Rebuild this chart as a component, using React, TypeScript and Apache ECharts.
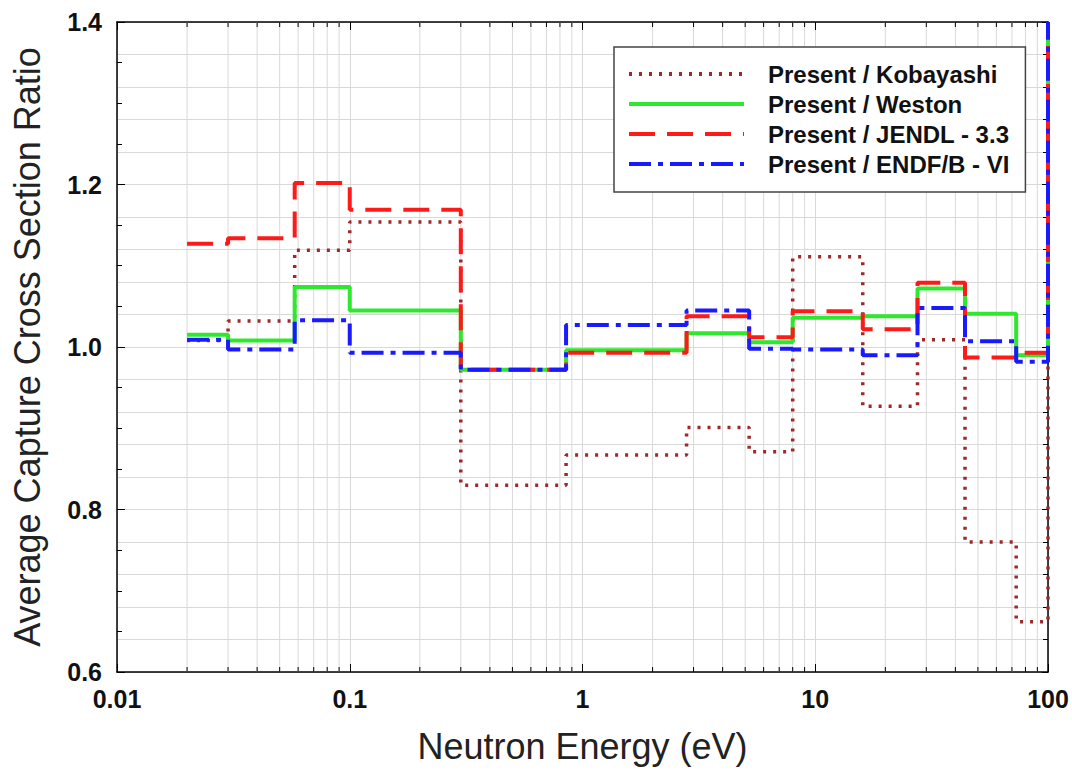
import React, { useEffect, useRef } from "react";
import * as echarts from "echarts";

// Bin lower edges (eV); the last entry is the upper edge of the final bin
const binEdges = [0.02, 0.03, 0.058, 0.1, 0.3, 0.85, 2.8, 5.2, 8, 16, 27.5, 44, 73, 100];
// Ratio in each bin (13 bins)
const kobayashi = [1.008, 1.032, 1.119, 1.154, 0.83, 0.867, 0.901, 0.871, 1.111, 0.927, 1.009, 0.76, 0.662];
const weston = [1.015, 1.008, 1.074, 1.045, 0.972, 0.996, 1.017, 1.006, 1.036, 1.038, 1.072, 1.041, 0.99];
const jendl = [1.127, 1.134, 1.202, 1.169, 0.972, 0.993, 1.038, 1.012, 1.044, 1.022, 1.079, 0.987, 0.993];
const endf = [1.009, 0.997, 1.033, 0.993, 0.972, 1.027, 1.045, 0.998, 0.997, 0.99, 1.048, 1.007, 0.982];
// value each curve jumps to at the 100 eV edge
const endValue = 1.4;

const seriesNames = [
  "Present / Kobayashi",
  "Present / Weston",
  "Present / JENDL - 3.3",
  "Present / ENDF/B - VI",
];

const xTickLabels = ["0.01", "0.1", "1", "10", "100"];
const yTickLabels = ["0.6", "0.8", "1.0", "1.2", "1.4"];
const minorXTicks = [
  0.02, 0.03, 0.04, 0.05, 0.06, 0.07, 0.08, 0.09,
  0.2, 0.3, 0.4, 0.5, 0.6, 0.7, 0.8, 0.9,
  2, 3, 4, 5, 6, 7, 8, 9,
  20, 30, 40, 50, 60, 70, 80, 90,
];

const X_MIN = 0.01;
const X_MAX = 100;
const Y_MIN = 0.6;
const Y_MAX = 1.4;

function stepData(values: number[]) {
  const pts: number[][] = values.map((v, i) => [binEdges[i], v]);
  pts.push([binEdges[binEdges.length - 1], endValue]);
  return pts;
}

export default function App() {
  const ref = useRef<HTMLDivElement>(null);

  useEffect(() => {
    if (!ref.current) return;
    const chart = echarts.init(ref.current, null, { renderer: "svg" });

    const lineBase = {
      type: "line",
      step: "end",
      showSymbol: false,
      symbol: "none",
      z: 3,
      xAxisIndex: 0,
      yAxisIndex: 0,
    };

    const option: any = {
      animation: false,
      backgroundColor: "#ffffff",
      grid: { left: 117, right: 24, top: 22, bottom: 104, containLabel: false },
      legend: {
        data: seriesNames,
        orient: "vertical",
        left: 614,
        top: 47,
        backgroundColor: "#ffffff",
        borderColor: "#444444",
        borderWidth: 1.5,
        padding: [15, 16, 16, 13],
        itemWidth: 115,
        itemHeight: 14,
        itemGap: 6,
        itemStyle: { opacity: 0 },
        lineStyle: { width: 4 },
        textStyle: {
          fontFamily: "Liberation Sans, Arial, sans-serif",
          fontWeight: "bold",
          fontSize: 24,
          color: "#111111",
          padding: [0, 0, 0, 19],
        },
      },
      xAxis: [
        {
          type: "log",
          logBase: 10,
          min: X_MIN,
          max: X_MAX,
          position: "bottom",
          name: "Neutron Energy (eV)",
          nameLocation: "middle",
          nameGap: 56,
          nameTextStyle: {
            fontFamily: "Liberation Sans, Arial, sans-serif",
            fontSize: 36,
            color: "#222222",
          },
          axisLine: { show: true, lineStyle: { color: "#000000", width: 1.5 } },
          axisTick: { show: true, inside: true, length: 8, lineStyle: { color: "#000000" } },
          axisLabel: {
            margin: 14,
            fontFamily: "Liberation Sans, Arial, sans-serif",
            fontWeight: "bold",
            fontSize: 25,
            color: "#111111",
            formatter: (v: number) => {
              const idx = Math.round(Math.log10(v)) + 2;
              return xTickLabels[idx] ?? String(v);
            },
          },
          splitLine: { show: true, lineStyle: { color: "#d9d9d9", width: 1 } },
          minorTick: { show: false },
        },
        {
          type: "log",
          logBase: 10,
          min: X_MIN,
          max: X_MAX,
          position: "top",
          axisLine: { show: true, lineStyle: { color: "#000000", width: 1.5 } },
          axisTick: { show: true, inside: true, length: 8, lineStyle: { color: "#000000" } },
          axisLabel: { show: false },
          splitLine: { show: false },
        },
      ],
      yAxis: [
        {
          type: "value",
          min: Y_MIN,
          max: Y_MAX,
          interval: 0.2,
          position: "left",
          name: "Average Capture Cross Section Ratio",
          nameLocation: "middle",
          nameGap: 72,
          nameTextStyle: {
            fontFamily: "Liberation Sans, Arial, sans-serif",
            fontSize: 36,
            color: "#222222",
          },
          axisLine: { show: true, lineStyle: { color: "#000000", width: 1.5 } },
          axisTick: { show: true, inside: true, length: 8, lineStyle: { color: "#000000" } },
          minorTick: { show: true, splitNumber: 4, length: 5, lineStyle: { color: "#000000" } },
          axisLabel: {
            margin: 15,
            fontFamily: "Liberation Sans, Arial, sans-serif",
            fontWeight: "bold",
            fontSize: 25,
            color: "#111111",
            formatter: (v: number) => {
              const idx = Math.round((v - Y_MIN) / 0.2);
              return yTickLabels[idx] ?? v.toFixed(1);
            },
          },
          splitLine: { show: false },
        },
        {
          type: "value",
          min: Y_MIN,
          max: Y_MAX,
          interval: 0.2,
          position: "right",
          axisLine: { show: true, lineStyle: { color: "#000000", width: 1.5 } },
          axisTick: { show: true, inside: true, length: 6, lineStyle: { color: "#000000" } },
          minorTick: { show: true, splitNumber: 5, length: 5, lineStyle: { color: "#000000" } },
          axisLabel: { show: false },
          splitLine: { show: true, lineStyle: { color: "#d9d9d9", width: 1 } },
          minorSplitLine: { show: true, lineStyle: { color: "#d9d9d9", width: 1 } },
        },
      ],
      series: [
        {
          type: "custom",
          name: "minorGrid",
          xAxisIndex: 0,
          yAxisIndex: 0,
          z: 1,
          silent: true,
          clip: false,
          data: minorXTicks.map((x) => [x, Y_MIN]),
          renderItem: (params: any, api: any) => {
            const x = api.value(0);
            const b = api.coord([x, Y_MIN]);
            const t = api.coord([x, Y_MAX]);
            return {
              type: "group",
              children: [
                {
                  type: "line",
                  shape: { x1: b[0], y1: b[1], x2: t[0], y2: t[1] },
                  style: { stroke: "#d9d9d9", lineWidth: 1 },
                },
                {
                  type: "line",
                  shape: { x1: b[0], y1: b[1], x2: b[0], y2: b[1] - 5 },
                  style: { stroke: "#000000", lineWidth: 1 },
                },
                {
                  type: "line",
                  shape: { x1: t[0], y1: t[1], x2: t[0], y2: t[1] + 5 },
                  style: { stroke: "#000000", lineWidth: 1 },
                },
              ],
            };
          },
        },
        {
          ...lineBase,
          name: seriesNames[0],
          data: stepData(kobayashi),
          itemStyle: { color: "#a02828" },
          lineStyle: { color: "#a02828", width: 3.5, type: [3, 7], cap: "butt" },
        },
        {
          ...lineBase,
          name: seriesNames[1],
          data: stepData(weston),
          itemStyle: { color: "#2ee82e" },
          lineStyle: { color: "#2ee82e", width: 4, type: "solid" },
        },
        {
          ...lineBase,
          name: seriesNames[2],
          data: stepData(jendl),
          itemStyle: { color: "#ff1a1a" },
          lineStyle: { color: "#ff1a1a", width: 4, type: [26, 12] },
        },
        {
          ...lineBase,
          name: seriesNames[3],
          data: stepData(endf),
          itemStyle: { color: "#1a1aff" },
          lineStyle: { color: "#1a1aff", width: 4, type: [22, 7, 5, 7] },
        },
      ],
    };

    chart.setOption(option);
    return () => {
      chart.dispose();
    };
  }, []);

  return (
    <div
      ref={ref}
      style={{ width: 1072, height: 776, position: "absolute", left: 0, top: 0, background: "#fff" }}
    />
  );
}
